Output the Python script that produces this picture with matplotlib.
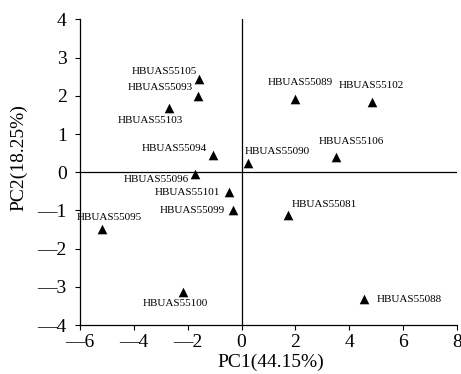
import numpy as np
from matplotlib import pyplot as plt
from matplotlib.ticker import FuncFormatter

# PCA scores
strains = ["HBUAS55105", "HBUAS55093", "HBUAS55103", "HBUAS55094", "HBUAS55096",
           "HBUAS55101", "HBUAS55099", "HBUAS55095", "HBUAS55100", "HBUAS55089",
           "HBUAS55102", "HBUAS55106", "HBUAS55090", "HBUAS55081", "HBUAS55088"]
pc1 = [-1.58, -1.62, -2.68, -1.07, -1.72,
       -0.46, -0.31, -5.17, -2.18, 1.98,
       4.83, 3.52, 0.23, 1.72, 4.56]
pc2 = [2.44, 2.00, 1.67, 0.46, -0.04,
       -0.53, -0.99, -1.48, -3.13, 1.91,
       1.84, 0.41, 0.25, -1.12, -3.32]
x_ticks = [-6, -4, -2, 0, 2, 4, 6, 8]
y_ticks = [-4, -3, -2, -1, 0, 1, 2, 3, 4]

# label placement: (dx, dy) in pixels, horizontal alignment
label_pos = {
    "HBUAS55105": (-2, 8, "right"),
    "HBUAS55093": (-5, 8, "right"),
    "HBUAS55103": (-19, -12, "center"),
    "HBUAS55094": (-6, 6, "right"),
    "HBUAS55096": (-6, -6, "right"),
    "HBUAS55101": (-9, 0, "right"),
    "HBUAS55099": (-8, 0, "right"),
    "HBUAS55095": (7, 11, "center"),
    "HBUAS55100": (-8, -12, "center"),
    "HBUAS55089": (5, 17, "center"),
    "HBUAS55102": (0, 16, "center"),
    "HBUAS55106": (15, 15, "center"),
    "HBUAS55090": (-3, 11, "left"),
    "HBUAS55081": (4, 11, "left"),
    "HBUAS55088": (12, 0, "left"),
}

plt.rcParams['font.family'] = ['Liberation Serif', 'DejaVu Serif']

fig = plt.figure(figsize=(4.61, 3.74), dpi=100)
ax = fig.add_axes([0.1735, 0.131, 0.9913 - 0.1735, 0.9479 - 0.131])

ax.axhline(0, color='black', lw=0.9, zorder=1)
ax.axvline(0, color='black', lw=0.9, zorder=1)
ax.scatter(pc1, pc2, marker='^', s=48, color='black', zorder=3, linewidths=0)

for name, x, y in zip(strains, pc1, pc2):
    dx, dy, ha = label_pos[name]
    ax.annotate(name, (x, y), xytext=(dx, dy), textcoords='offset pixels',
                ha=ha, va='center', fontsize=8)

ax.set_xlim(-6, 8)
ax.set_ylim(-4, 4)
ax.set_xticks(x_ticks)
ax.set_yticks(y_ticks)
fmt = FuncFormatter(lambda v, p: ('\u2014' + str(int(abs(v)))) if v < 0 else str(int(v)))
ax.xaxis.set_major_formatter(fmt)
ax.yaxis.set_major_formatter(fmt)
ax.tick_params(direction='out', length=3.5, width=0.8, labelsize=14)
ax.tick_params(axis='x', pad=3)
ax.tick_params(axis='y', pad=6)

for s in ['top', 'right']:
    ax.spines[s].set_visible(False)
for s in ['left', 'bottom']:
    ax.spines[s].set_linewidth(0.9)

ax.set_xlabel('PC1(44.15%)', fontsize=14)
ax.set_ylabel('PC2(18.25%)', fontsize=14)
ax.xaxis.set_label_coords(0.507, -0.095)
ax.yaxis.set_label_coords(-0.14, 0.547)

fig.savefig('out.png', dpi=100)
